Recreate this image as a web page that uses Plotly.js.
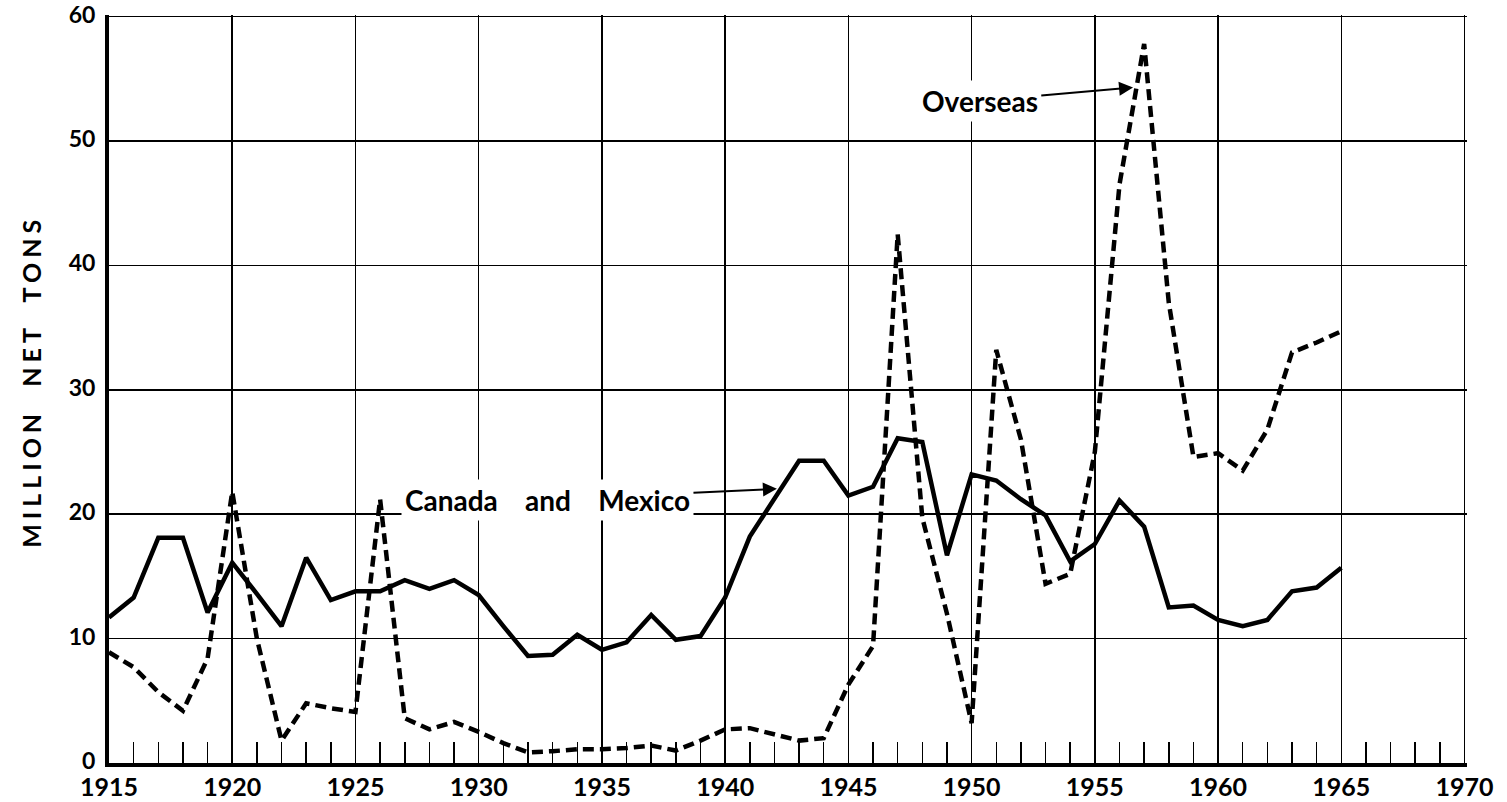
<!DOCTYPE html>
<html>
<head>
<meta charset="utf-8">
<script src="https://cdn.plot.ly/plotly-3.0.1.min.js"></script>
<style>
  html, body { margin: 0; padding: 0; background: #fff; }
  #chart { width: 1507px; height: 802px; }
</style>
</head>
<body>
<div id="chart"></div>
<script>
const years = [1915,1916,1917,1918,1919,1920,1921,1922,1923,1924,1925,1926,1927,1928,1929,1930,
  1931,1932,1933,1934,1935,1936,1937,1938,1939,1940,1941,1942,1943,1944,1945,1946,
  1947,1948,1949,1950,1951,1952,1953,1954,1955,1956,1957,1958,1959,1960,1961,1962,1963,1964,1965];

const canadaMexico = [11.7,13.3,18.1,18.1,12.1,16.1,13.6,11.0,16.5,13.1,13.8,13.8,14.7,14.0,14.7,13.5,
  11.0,8.6,8.7,10.3,9.1,9.7,11.9,9.9,10.2,13.3,18.2,21.3,24.3,24.3,21.5,22.2,
  26.1,25.8,16.7,23.2,22.7,21.2,19.9,16.2,17.6,21.1,19.0,12.5,12.65,11.5,11.0,11.5,13.8,14.1,15.7];

const overseas = [8.9,7.7,5.7,4.2,8.4,21.8,10.0,1.8,4.8,4.4,4.1,21.2,3.6,2.7,3.3,2.5,
  1.6,0.85,0.95,1.1,1.1,1.2,1.4,1.0,1.8,2.7,2.8,2.3,1.8,2.0,6.3,9.4,
  42.5,19.7,12.0,3.2,33.2,26.0,14.4,15.2,25.0,46.5,57.8,37.0,24.6,24.9,23.5,26.8,33.0,33.8,34.7];

const xTickVals = [1915,1920,1925,1930,1935,1940,1945,1950,1955,1960,1965,1970];
const xTickText = ['1915','1920','1925','1930','1935','1940','1945','1950','1955','1960','1965','1970'];
const yTickVals = [0,10,20,30,40,50,60];
const yTickText = ['0','10','20','30','40','50','60'];

const FONT = 'Lato, "DejaVu Sans", sans-serif';

const traces = [
  {
    x: years, y: overseas, type: 'scatter', mode: 'lines', name: 'Overseas',
    line: { color: '#000', width: 4.5, dash: '11px,6px' }
  },
  {
    x: years, y: canadaMexico, type: 'scatter', mode: 'lines', name: 'Canada and Mexico',
    line: { color: '#000', width: 4.5 }
  }
];

const layout = {
  width: 1507, height: 802,
  margin: { l: 109, r: 40, t: 15, b: 39 },
  paper_bgcolor: '#fff', plot_bgcolor: '#fff',
  showlegend: false,
  font: { family: FONT, color: '#000', size: 26, weight: 700 },
  xaxis: {
    range: [1915, 1970.1],
    tickmode: 'array', tickvals: xTickVals, ticktext: xTickText,
    showgrid: true, gridcolor: '#000', gridwidth: 1.5,
    zeroline: false,
    showline: true, linecolor: '#000', linewidth: 4,
    ticks: 'inside', ticklen: 21, tickwidth: 1.5, tickcolor: '#000',
    ticklabelstandoff: -1, ticklabeloverflow: 'allow',
    minor: { dtick: 1, tick0: 1915, ticks: 'inside', ticklen: 21, tickwidth: 1.5, tickcolor: '#000', showgrid: false },
    tickfont: { family: FONT, size: 25, color: '#000', weight: 700 },
    fixedrange: true
  },
  yaxis: {
    range: [0, 60.12],
    tickmode: 'array', tickvals: yTickVals, ticktext: yTickText,
    showgrid: true, gridcolor: '#000', gridwidth: 1.5,
    zeroline: false,
    showline: true, linecolor: '#000', linewidth: 4,
    ticks: '', ticklabelstandoff: 5, ticklabelshift: -2, ticklabeloverflow: 'allow',
    tickfont: { family: FONT, size: 23, color: '#000', weight: 700 },
    fixedrange: true
  },
  annotations: [
    {
      xref: 'paper', yref: 'paper', x: -0.058, y: 0.51,
      text: 'MILLION\u00a0\u00a0NET\u00a0\u00a0TONS', textangle: -90, showarrow: false,
      font: { family: FONT, size: 25, color: '#000', weight: 700 },
      xanchor: 'center', yanchor: 'middle'
    },
    {
      x: 1956.55, y: 54.3, xref: 'x', yref: 'y',
      ax: 1950.33, ay: 53.2, axref: 'x', ayref: 'y',
      text: 'Overseas', showarrow: true, arrowhead: 2, arrowsize: 1.4, arrowwidth: 2,
      arrowcolor: '#000', bgcolor: '#fff', borderpad: 3,
      font: { family: FONT, size: 28, color: '#000', weight: 700 }
    },
    {
      x: 1942.1, y: 22.04, xref: 'x', yref: 'y',
      ax: 1932.79, ay: 21.17, axref: 'x', ayref: 'y',
      text: 'Canada\u00a0\u00a0\u00a0\u00a0and\u00a0\u00a0\u00a0\u00a0Mexico', showarrow: true, arrowhead: 2, arrowsize: 1.4, arrowwidth: 2,
      arrowcolor: '#000', bgcolor: '#fff', borderpad: 3,
      font: { family: FONT, size: 28, color: '#000', weight: 700 }
    }
  ]
};

Plotly.newPlot('chart', traces, layout, { displayModeBar: false, staticPlot: true }).then(function () {
  const texts = document.querySelectorAll('.annotation-text');
  if (texts[0]) texts[0].style.letterSpacing = '5px';
});
</script>
</body>
</html>
